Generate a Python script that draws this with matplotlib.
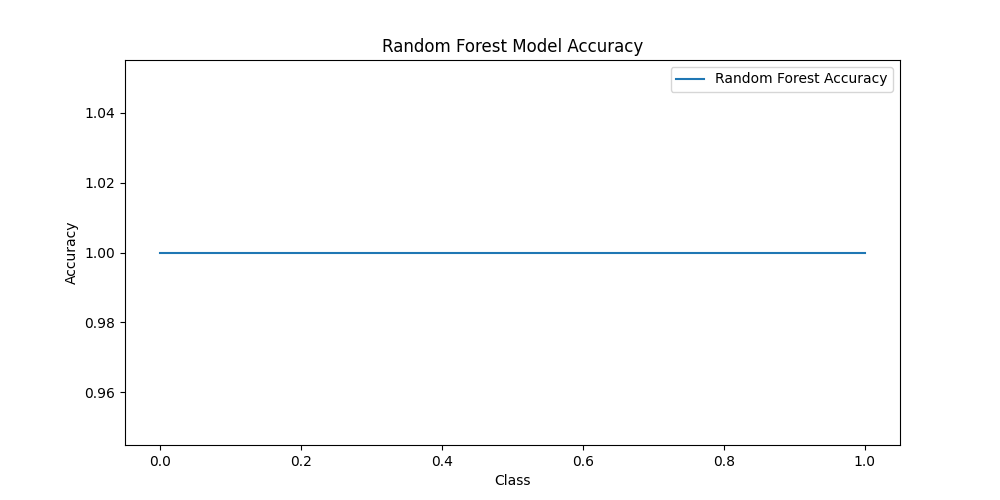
import matplotlib
matplotlib.use('Agg')
import matplotlib.pyplot as plt

classes = [0, 1]
accuracy = [1.0, 1.0]

plt.figure(figsize=(10, 5), dpi=100)
plt.plot(classes, accuracy, label='Random Forest Accuracy')
plt.title('Random Forest Model Accuracy')
plt.xlabel('Class')
plt.ylabel('Accuracy')
plt.legend()
plt.savefig('out.png')
